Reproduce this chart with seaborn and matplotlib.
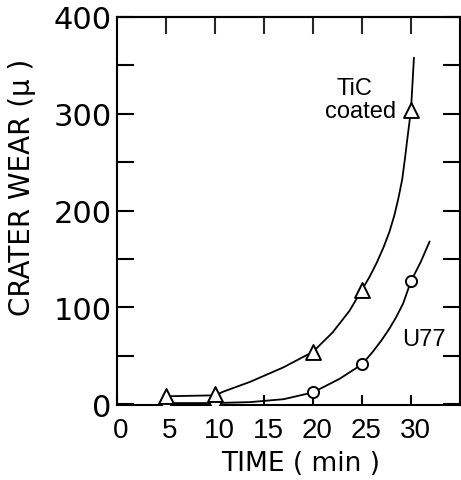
import matplotlib
matplotlib.use("Agg")
import matplotlib.pyplot as plt
import matplotlib.transforms as mtransforms
import seaborn as sns
import pandas as pd
from matplotlib.ticker import MultipleLocator

# measured points
time_pts = [5, 10, 20, 25, 30]
tic_pts = [8, 10, 54, 118, 304]
u77_pts = [2, 2, 12, 41, 127]

# fitted curves
tic_curve_x = [5, 10, 10.9, 13.6, 17.0, 20, 22.0, 23.7, 25, 25.8, 26.5, 27.2, 27.8, 28.3, 28.7, 29.1, 29.4, 29.6, 29.8, 30, 30.3]
tic_curve_y = [8, 9, 13, 23, 38, 54, 74, 96, 118, 132, 146, 162, 178, 195, 212, 232, 255, 272, 288, 304, 358]
u77_curve_x = [5, 10, 13.6, 17.0, 20, 22.7, 25, 26.1, 27.0, 27.8, 28.5, 29.2, 30, 31.0, 31.9]
u77_curve_y = [1, 1, 2, 5, 12, 26, 41, 54, 66, 78, 90, 104, 127, 147, 168]

x_ticks = [0, 5, 10, 15, 20, 25, 30]
y_ticks = [0, 100, 200, 300, 400]

sns.set_theme(style="ticks")
plt.rcParams['font.family'] = ['DejaVu Sans']

fig = plt.figure(figsize=(4.61, 4.81), dpi=100)
ax = fig.add_axes([117/461, 1 - 406/481, 343/461, 388/481])

tic_curve = pd.DataFrame({"x": tic_curve_x, "y": tic_curve_y})
u77_curve = pd.DataFrame({"x": u77_curve_x, "y": u77_curve_y})
pts = pd.DataFrame({"t": time_pts, "tic": tic_pts, "u77": u77_pts})

sns.lineplot(data=tic_curve, x="x", y="y", sort=False, estimator=None,
             color="black", lw=1.3, ax=ax)
sns.lineplot(data=u77_curve, x="x", y="y", sort=False, estimator=None,
             color="black", lw=1.3, ax=ax)
sns.scatterplot(data=pts, x="t", y="u77", marker="o", s=64, facecolor="white",
                edgecolor="black", linewidth=1.4, ax=ax, zorder=3)
sns.scatterplot(data=pts, x="t", y="tic", marker="^", s=115, facecolor="white",
                edgecolor="black", linewidth=1.4, ax=ax, zorder=4)

ax.set_xlim(0, 35)
ax.set_ylim(-1, 400)
ax.set_xticks(x_ticks)
ax.set_xticklabels([str(v) for v in x_ticks])
ax.set_yticks(y_ticks)
ax.set_yticklabels([str(v) for v in y_ticks])
ax.yaxis.set_minor_locator(MultipleLocator(50))

for s in ax.spines.values():
    s.set_linewidth(1.5)
    s.set_color("black")

ax.tick_params(axis='y', which='both', direction='in', length=12, width=1.5,
               left=True, right=True, labelsize=22, pad=4, colors='black')
ax.tick_params(axis='x', which='major', direction='in', length=7, width=1.5,
               bottom=True, top=False, labelsize=20, pad=9, colors='black')
for lab in ax.get_xticklabels():
    lab.set_family(['Liberation Sans'])
    lab.set_transform(lab.get_transform() +
                      mtransforms.ScaledTranslation(4/100, 0, fig.dpi_scale_trans))

secax = ax.secondary_xaxis('top')
secax.set_xticks(x_ticks[1:])
secax.tick_params(direction='in', length=12, width=1.5, labeltop=False)
secax.spines['top'].set_linewidth(1.5)

ax.set_xlabel("TIME ( min )", fontsize=19, color="black")
ax.set_ylabel("CRATER WEAR (μ )", fontsize=20, color="black")
ax.yaxis.set_label_coords(-0.235, 0.564)
ax.xaxis.set_label_coords(0.535, -0.117)

ax.text(24.2, 320, "TiC", fontsize=17, ha="center", va="baseline", color="black",
        family=['Liberation Sans'])
ax.text(24.9, 297, "coated", fontsize=17, ha="center", va="baseline", color="black",
        family=['Liberation Sans'])
ax.text(31.3, 67, "U77", fontsize=17, ha="center", va="center", color="black",
        family=['Liberation Sans'])

fig.savefig("out.png", dpi=100)
